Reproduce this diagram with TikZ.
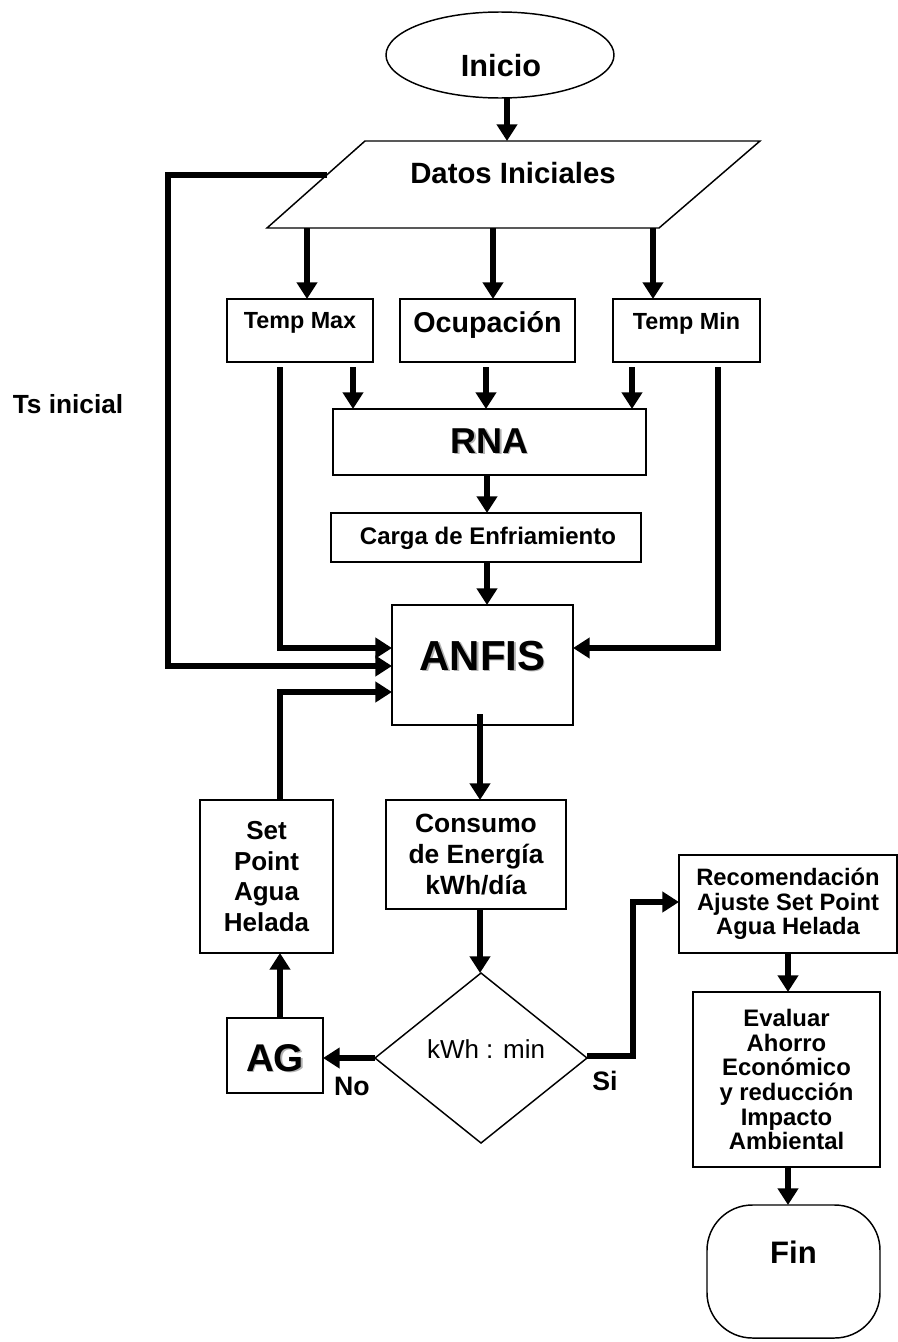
\documentclass[tikz,border=0pt]{standalone}
\usepackage{fontspec}
\setmainfont{Liberation Sans}
\usetikzlibrary{arrows.meta,calc,shapes.geometric}
\newcommand\setfs[2]{\fontsize{#1}{#2}\selectfont}
\begin{document}
\begin{tikzpicture}[x=0.75pt,y=-0.75pt,
  sz/.style 2 args={minimum width={#1*0.75pt},minimum height={#2*0.75pt}},
  box/.style={draw,line width=1.1pt,inner sep=0pt,outer sep=0pt},
  txt/.style={inner sep=0pt,outer sep=0pt,anchor=base},
  bf/.style 2 args={font=\bfseries\setfs{#1}{#2}},
  shade/.style={text=black!30},
  arr/.style={line width=4.6pt,line join=miter,-{Triangle[length=12.5pt,width=15pt]}},
]
\useasboundingbox (0,0) rectangle (898,1342);

% start and input data
\node[box,ellipse,sz={228}{86}] (inicio) at (500,55) {};
\node[txt,bf={23}{27}] (inicioT) at (501,76) {Inicio};
\node[sz={493}{87},inner sep=0pt,outer sep=0pt] (datos) at (513.5,184.5) {};
\draw[line width=1.1pt] (datos.south west) -- ($(datos.north west)+(98,0)$)
  -- (datos.north east) -- ($(datos.south east)+(-101,0)$) -- cycle;
\node[txt,bf={22}{26}] (datosT) at (513,183) {Datos Iniciales};

% input variables
\node[box,sz={146}{63}] (tmax) at (300,330.5) {};
\node[txt,bf={17.5}{21}] (tmaxT) at (300,328) {Temp Max};
\node[box,sz={175}{63}] (ocup) at (487.5,330.5) {};
\node[txt,bf={21.5}{25}] (ocupT) at (487.5,332) {Ocupación};
\node[box,sz={147}{63}] (tmin) at (686.5,330.5) {};
\node[txt,bf={17.5}{21}] (tminT) at (686.5,329) {Temp Min};

% neural network and cooling load
\node[box,sz={313}{66}] (rna) at (489.5,442) {};
\node[txt,bf={27}{32},shade] (rnaS) at (491,454.5) {RNA};
\node[txt,bf={27}{32}] (rnaT) at (489.5,453) {RNA};
\node[box,sz={310}{49}] (carga) at (486,537.5) {};
\node[txt,bf={18}{22}] (cargaT) at (488,544) {Carga de Enfriamiento};

% ANFIS
\node[box,sz={181}{120}] (anfis) at (482.5,665) {};
\node[txt,bf={31.5}{36},shade] (anfisS) at (484,671.5) {ANFIS};
\node[txt,bf={31.5}{36}] (anfisT) at (482.5,670) {ANFIS};

% outputs and decision
\node[box,sz={133}{153},align=center,bf={19.5}{23}] (setp) at (266.5,876.5) {Set\\Point\\Agua\\Helada};
\node[box,sz={180}{109},align=center,bf={19.8}{23}] (cons) at (476,854.5) {Consumo\\de Energía\\kWh/día};
\node[box,diamond,sz={212}{170}] (dec) at (481,1058) {};
\node[txt,font=\setfs{19.5}{23}] (decT) at (486,1058) {kWh : min};
\node[box,sz={96}{75}] (ag) at (275,1055.5) {};
\node[txt,bf={29}{34},shade] (agS) at (276.5,1072.5) {AG};
\node[txt,bf={29}{34}] (agT) at (275,1071) {AG};
\node[box,sz={218}{98},align=center,bf={17.8}{18.4}] (recom) at (788,904) {Recomendación\\Ajuste Set Point\\Agua Helada};
\node[box,sz={187}{175},align=center,bf={17.9}{18.5}] (eval) at (786.5,1079.5) {Evaluar\\Ahorro\\Económico\\y reducción\\Impacto\\Ambiental};
\node[box,rounded corners=34pt,sz={173}{133}] (fin) at (793.5,1271.5) {};
\node[txt,bf={23.3}{27}] (finT) at (793.5,1263) {Fin};

% side labels
\node[txt,bf={19.7}{23}] (ts) at (68,413) {Ts inicial};
\node[txt,bf={20}{24}] (no) at (352,1095) {No};
\node[txt,bf={20}{24}] (si) at (605,1090) {Si};

% connectors
\path ($(inicio.south)+(7,0)$) coordinate (c1);
\draw[arr] (c1) -- (c1 |- datos.north);

\path ($(tmax.north)+(7,0)$) coordinate (c2);
\draw[arr] (c2 |- datos.south) -- (c2);
\path ($(ocup.north)+(5.5,0)$) coordinate (c3);
\draw[arr] (c3 |- datos.south) -- (c3);
\path ($(tmin.north)+(-33.5,0)$) coordinate (c4);
\draw[arr] (c4 |- datos.south) -- (c4);

\path ($(tmax.south)+(53,5)$) coordinate (c5);
\draw[arr] (c5) -- (c5 |- rna.north);
\path ($(ocup.south)+(-1.5,5)$) coordinate (c6);
\draw[arr] (c6) -- (c6 |- rna.north);
\path ($(tmin.south)+(-54.5,5)$) coordinate (c7);
\draw[arr] (c7) -- (c7 |- rna.north);

\path ($(tmax.south)+(-20,5)$) coordinate (c8);
\path ($(anfis.west)+(0,-17)$) coordinate (c9);
\draw[arr] (c8) |- (c9);
\path ($(tmin.south)+(31.5,5)$) coordinate (c10);
\path ($(anfis.east)+(0,-17)$) coordinate (c11);
\draw[arr] (c10) |- (c11);

\path ($(rna.south)+(-2.5,0)$) coordinate (c12);
\draw[arr] (c12) -- (c12 |- carga.north);
\path ($(carga.south)+(1,0)$) coordinate (c13);
\draw[arr] (c13) -- (c13 |- anfis.north);

\coordinate (c14) at (327,175);
\path ($(anfis.west)+(0,1)$) coordinate (c16);
\draw[arr] (c14) -| ($(c16)+(-224,0)$) -- (c16);

\path ($(setp.north)+(13.5,0)$) coordinate (c17);
\path ($(anfis.west)+(0,27)$) coordinate (c18);
\draw[arr] (c17) |- (c18);

\path ($(anfis.south)+(-2.5,-11)$) coordinate (c19);
\draw[arr] (c19) -- (c19 |- cons.north);
\draw[arr] (c19 |- cons.south) -- (c19 |- dec.north);

\draw[arr] (dec.west) -- (dec.west -| ag.east);
\path ($(ag.north)+(5,0)$) coordinate (c20);
\draw[arr] (c20) -- (c20 |- setp.south);

\path ($(dec.east)+(0,-2)$) coordinate (c21);
\path ($(recom.west)+(0,-2)$) coordinate (c22);
\draw[arr] (c21) -- ++(46,0) |- (c22);

\draw[arr] (recom.south) -- (recom.south |- eval.north);
\draw[arr] (recom.south |- eval.south) -- (recom.south |- fin.north);
\end{tikzpicture}
\end{document}
